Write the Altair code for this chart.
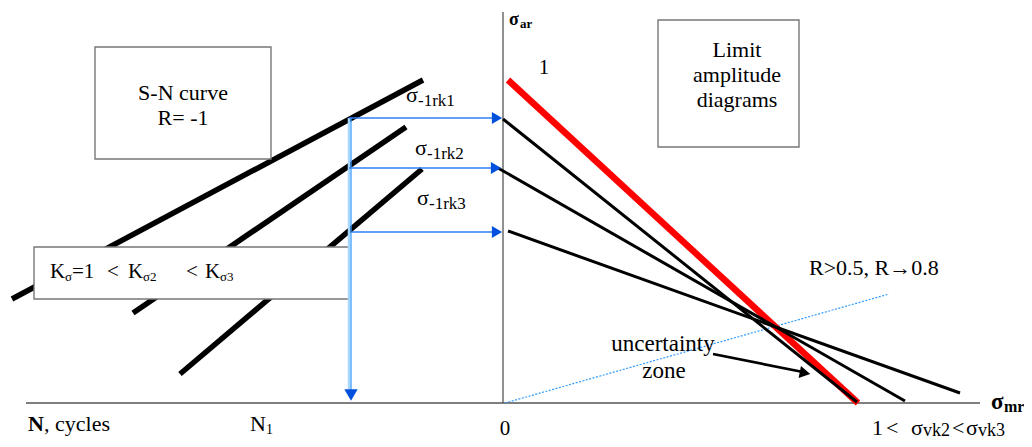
import altair as alt
import pandas as pd

# ---------------- diagram values (reference pixel-like coordinates) ----------------
# S-N curves (left half), one segment per K_sigma
sn_x1 = [12, 133, 180]
sn_y1 = [299, 313, 374]
sn_x2 = [423, 406, 422]
sn_y2 = [80, 127, 169]

# limit amplitude lines (right half)
lim_x1 = [503, 498, 508]
lim_y1 = [119, 168, 231]
lim_x2 = [857, 905, 960]
lim_y2 = [402, 401, 393]

# red reference limit line (K = 1)
red_x1, red_y1, red_x2, red_y2 = [508], [80], [858], [403]

# axes
ax_x1 = [26, 503]
ax_y1 = [403, 12]
ax_x2 = [980, 503]
ax_y2 = [403, 403]

# blue projection arrows
arrow_y = [118, 168, 232]
arrow_x_start = [349, 349, 352]
arrow_x_end = [494, 493, 494]
arrow_tip_x = [497, 496, 497]
vert_x = [351]
vert_y1 = [118]
vert_y2 = [392]
vert_tip_y = [395]

# R ray (dotted)
ray_x1, ray_y1, ray_x2, ray_y2 = [505], [403], [889], [294]

# uncertainty arrow
unc_x1, unc_y1, unc_x2, unc_y2 = [713], [354], [803], [372]
unc_tip_x, unc_tip_y = [805], [373]

# boxes
box_x1 = [95, 658, 34]
box_y1 = [47, 20, 247]
box_x2 = [271, 799, 349]
box_y2 = [159, 147, 299]

# texts centred
c_text = ["S-N curve", "R= -1", "Limit", "amplitude", "diagrams", "1",
          "uncertainty", "zone", "0"]
c_x = [183, 183, 737, 737, 737, 544, 663, 664, 505]
c_y = [100, 125, 57, 82, 107, 74, 351, 378, 435]
c_s = [22, 22, 22, 22, 22, 21, 23, 23, 21]

# texts left aligned (normal)
l_text = ["R>0.5, R\u21920.8",
          "K", "\u03c3", "=1", "<", "K", "\u03c32", "<", "K", "\u03c33",
          "\u03c3", "-1rk1", "\u03c3", "-1rk2", "\u03c3", "-1rk3",
          ", cycles", "N", "1",
          "1", "<", "\u03c3", "vk2", "<", "\u03c3", "vk3"]
l_x = [809,
       50, 65, 72, 107, 128, 143, 186, 205, 220,
       406, 418, 415, 427, 417, 429,
       44, 250, 266,
       872, 886, 911, 923, 952, 966, 978]
l_y = [275,
       278, 281, 278, 278, 278, 281, 278, 278, 281,
       102, 106, 155, 159, 205, 209,
       431, 431, 434,
       435, 435, 435, 436, 435, 435, 436]
l_s = [22,
       21, 13, 21, 21, 21, 13, 21, 21, 13,
       22, 17, 22, 17, 22, 17,
       22, 22, 14,
       22, 22, 22, 18, 22, 22, 18]

# texts left aligned (bold)
b_text = ["N", "\u03c3", "ar", "\u03c3", "mr"]
b_x = [28, 509, 520, 991, 1004]
b_y = [431, 25, 28, 409, 412]
b_s = [22, 18, 13, 23, 16]

# ---------------- scales ----------------
W, H = 1016, 431
X0, Y0 = 8, 8
SERIF = "Liberation Serif"


def xs(f):
    return alt.X(f, type="quantitative",
                 scale=alt.Scale(domain=[X0, X0 + W], nice=False, zero=False), axis=None)


def ys(f):
    return alt.Y(f, type="quantitative",
                 scale=alt.Scale(domain=[Y0, Y0 + H], nice=False, zero=False, reverse=True),
                 axis=None)


def segs(x1, y1, x2, y2, color, width, dash=None, opacity=1):
    df = pd.DataFrame({"x": x1, "y": y1, "x2": x2, "y2": y2})
    kw = dict(color=color, strokeWidth=width, opacity=opacity)
    if dash:
        kw["strokeDash"] = dash
    return alt.Chart(df).mark_rule(**kw).encode(
        x=xs("x"), y=ys("y"), x2=alt.X2("x2:Q"), y2=alt.Y2("y2:Q"))


def heads(x, y, shape, color, size, angle=0):
    df = pd.DataFrame({"x": x, "y": y})
    return alt.Chart(df).mark_point(shape=shape, filled=True, size=size, color=color,
                                    opacity=1, angle=angle, strokeWidth=0).encode(
        x=xs("x"), y=ys("y"))


def texts(t, x, y, s, align, weight="normal"):
    df = pd.DataFrame({"t": t, "x": x, "y": y, "s": s})
    return alt.Chart(df).mark_text(align=align, baseline="alphabetic",
                                   font=SERIF, fontWeight=weight,
                                   color="black").encode(
        x=xs("x"), y=ys("y"), text="t:N", size=alt.Size("s:Q", scale=None))


sn = segs(sn_x1, sn_y1, sn_x2, sn_y2, "black", 5.5)

boxes = alt.Chart(pd.DataFrame({"x": box_x1, "y": box_y1, "x2": box_x2, "y2": box_y2})).mark_rect(
    fill="white", stroke="#777777", strokeWidth=1.4).encode(
    x=xs("x"), y=ys("y"), x2=alt.X2("x2:Q"), y2=alt.Y2("y2:Q"))

axes = segs(ax_x1, ax_y1, ax_x2, ax_y2, "#555555", 1.3)

blue_h = segs(arrow_x_start, arrow_y, arrow_x_end, arrow_y, "#2f7ff5", 1.5)
blue_h_heads = heads(arrow_tip_x, arrow_y, "triangle-right", "#0050dc", 140)
blue_v_light = segs([349], vert_y1, [349], vert_y2, "#a9d6ff", 2.5)
blue_v = segs(vert_x, vert_y1, vert_x, vert_y2, "#3d9cff", 1.3)
blue_v_head = heads(vert_x, vert_tip_y, "triangle-down", "#0050dc", 180)

ray = segs(ray_x1, ray_y1, ray_x2, ray_y2, "#2f9bff", 1.2, dash=[2, 1.5])

red = segs(red_x1, red_y1, red_x2, red_y2, "#ff0000", 6.5)
lim = segs(lim_x1, lim_y1, lim_x2, lim_y2, "black", 3)

unc = segs(unc_x1, unc_y1, unc_x2, unc_y2, "black", 2.6)
unc_head = heads(unc_tip_x, unc_tip_y, "triangle-right", "black", 150, angle=11)

t_center = texts(c_text, c_x, c_y, c_s, "center")
t_left = texts(l_text, l_x, l_y, l_s, "left")
t_bold = texts(b_text, b_x, b_y, b_s, "left", weight="bold")

chart = alt.layer(
    sn, boxes, axes, blue_v_light, blue_v, blue_h, ray, red, lim, unc,
    blue_h_heads, blue_v_head, unc_head, t_center, t_left, t_bold
).properties(
    width=W, height=H, padding=0,
    autosize=alt.AutoSizeParams(type="none"),
    background="white"
).configure_view(stroke=None)

chart.save("out.html", embed_options={"renderer": "svg", "actions": False})
